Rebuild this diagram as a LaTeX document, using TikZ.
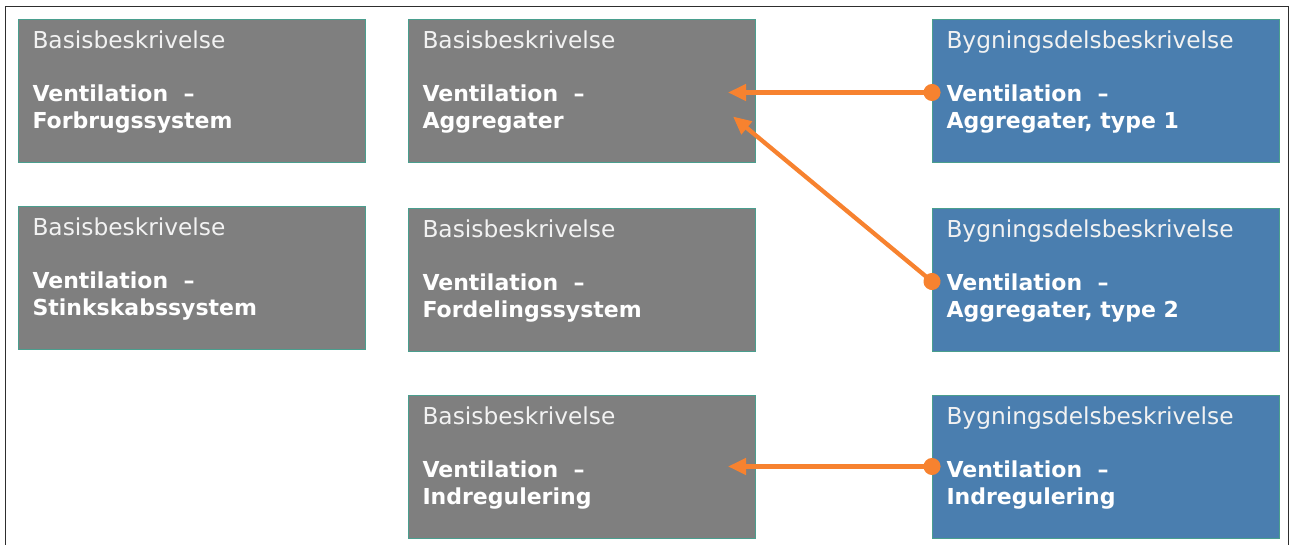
\documentclass[tikz,border=0pt]{standalone}
\usepackage{fontspec}
\setmainfont{DejaVu Sans}
\usetikzlibrary{positioning, arrows.meta, calc}

\definecolor{boxgray}{HTML}{7F7F7F}
\definecolor{boxblue}{HTML}{4A7EAF}
\definecolor{edgeteal}{HTML}{4A9E8E}
\definecolor{arrorange}{HTML}{F7822F}
\definecolor{headtext}{HTML}{F2F2F2}
\definecolor{framegray}{HTML}{2E2E2E}

% box text: light heading, blank line, two bold lines, top aligned
\newcommand{\desc}[3]{\parbox[c][143pt][t]{318pt}{\fontsize{22}{27}\selectfont
    \leavevmode\color{headtext}\rule{0pt}{30pt}{\fontsize{23.3}{27}\selectfont #1}\\[26pt]
    \color{white}\bfseries #2\\#3}}

\begin{document}
\begin{tikzpicture}[x=1pt, y=1pt,
    descbox/.style={draw=edgeteal, line width=0.8pt, minimum width=347pt,
                    minimum height=143pt, inner sep=0pt, outer sep=0pt},
    basis/.style={descbox, fill=boxgray},
    bygn/.style={descbox, fill=boxblue},
    link/.style={draw=arrorange, line width=4.3pt, shorten <=-8.5pt,
                 {Circle[length=17pt]}-{Triangle[length=18pt, width=16pt]}},
    node distance=44pt and 43pt]

    \useasboundingbox (0,0) rectangle (1291,545); % size of the screenshot

    % outer frame, open at the bottom
    \draw [framegray, line width=1.8pt] (5.5,0) -- (5.5,538.5) -- (1288.5,538.5) -- (1288.5,0);

    % basis descriptions, left and middle columns
    \node [basis] (b1) at (191.5,454.5) {\desc{Basisbeskrivelse}{Ventilation\ \ –}{Forbrugssystem}};
    \node [basis, below=44pt of b1] (b2) {\desc{Basisbeskrivelse}{Ventilation\ \ –}{Stinkskabssystem}};
    \node [basis, right=43pt of b1] (m1) {\desc{Basisbeskrivelse}{Ventilation\ \ –}{Aggregater}};
    \node [basis, below=46pt of m1] (m2) {\desc{Basisbeskrivelse}{Ventilation\ \ –}{Fordelingssystem}};
    \node [basis, below=44pt of m2] (m3) {\desc{Basisbeskrivelse}{Ventilation\ \ –}{Indregulering}};

    % building part descriptions, right column
    \node [bygn, right=177pt of m1] (r1) {\desc{Bygningsdelsbeskrivelse}{Ventilation\ \ –}{Aggregater, type 1}};
    \node [bygn, right=177pt of m2] (r2) {\desc{Bygningsdelsbeskrivelse}{Ventilation\ \ –}{Aggregater, type 2}};
    \node [bygn, right=177pt of m3] (r3) {\desc{Bygningsdelsbeskrivelse}{Ventilation\ \ –}{Indregulering}};

    % arrow ends inside the basis boxes
    \coordinate (m1a) at ($(m1.east)+(-27,-2)$);
    \coordinate (m1b) at ($(m1.east)+(-22,-26)$);
    \coordinate (m3a) at ($(m3.east)+(-27,0)$);

    \draw [link] ([yshift=-2pt]r1.west) -- (m1a);
    \draw [link] ([yshift=-2pt]r2.west) -- (m1b);
    \draw [link] (r3.west) -- (m3a);

\end{tikzpicture}
\end{document}
